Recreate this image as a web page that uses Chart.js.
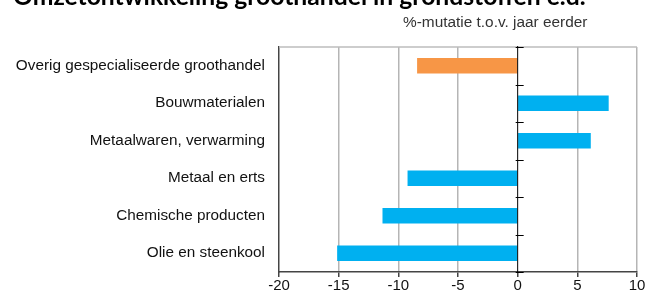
<!DOCTYPE html>
<html>
<head>
<meta charset="utf-8">
<script src="https://cdn.jsdelivr.net/npm/chart.js"></script>
<style>
	body { margin: 0; background: #fff; }
	#wrap { position: relative; width: 657px; height: 297px; }
</style>
</head>
<body>
<div id="wrap">
	<canvas id="groothandel" width="657" height="297"></canvas>
</div>

<script>
	// --- data ---
	var titleText = 'Omzetontwikkeling groothandel in grondstoffen e.d.';
	var subtitleText = '%-mutatie t.o.v. jaar eerder';
	var categories = [
		'Overig gespecialiseerde groothandel',
		'Bouwmaterialen',
		'Metaalwaren, verwarming',
		'Metaal en erts',
		'Chemische producten',
		'Olie en steenkool'
	];
	var values = [-8.4, 7.6, 6.1, -9.2, -11.3, -15.1];
	var barColors = ['#f79646', '#00b0f0', '#00b0f0', '#00b0f0', '#00b0f0', '#00b0f0'];
	var xTicks = [-20, -15, -10, -5, 0, 5, 10];

	// titles, top border, zero line and its little tick marks
	var extras = {
		id: 'extras',
		afterDatasetsDraw: function (chart) {
			var ctx = chart.ctx;
			var area = chart.chartArea;
			var xs = chart.scales.x;
			var ys = chart.scales.y;
			var x0 = xs.getPixelForValue(0);
			ctx.save();
			// top border
			ctx.strokeStyle = '#bdbdbd';
			ctx.lineWidth = 1.5;
			ctx.beginPath();
			ctx.moveTo(area.left, area.top);
			ctx.lineTo(area.right, area.top);
			ctx.stroke();
			// zero line
			ctx.strokeStyle = '#000';
			ctx.lineWidth = 1;
			ctx.beginPath();
			ctx.moveTo(x0, area.top - 1);
			ctx.lineTo(x0, area.bottom);
			ctx.stroke();
			// ticks between categories
			for (var i = 0; i <= categories.length; i++) {
				var y = Math.round(ys.getPixelForValue(i - 0.5)) + 0.5;
				ctx.beginPath();
				ctx.moveTo(x0 - 2, y);
				ctx.lineTo(x0 + 6, y);
				ctx.stroke();
			}
			ctx.restore();
		},
		afterDraw: function (chart) {
			var ctx = chart.ctx;
			ctx.save();
			ctx.fillStyle = '#000';
			ctx.textAlign = 'left';
			ctx.textBaseline = 'alphabetic';
			// size the title so it spans about 13..585 like the original
			ctx.font = 'bold 20px Lato';
			var size = 20 * 572 / ctx.measureText(titleText).width;
			ctx.font = 'bold ' + size.toFixed(1) + 'px Lato';
			ctx.fillText(titleText, 13, 5);
			ctx.fillStyle = '#333';
			ctx.font = '15.4px "Liberation Sans"';
			ctx.fillText(subtitleText, 403, 27);
			ctx.restore();
		}
	};

	var ctx = document.getElementById('groothandel').getContext('2d');
	new Chart(ctx, {
		type: 'bar',
		data: {
			labels: categories,
			datasets: [ {
				data: values,
				backgroundColor: barColors,
				borderWidth: 0,
				barThickness: 15
			} ]
		},
		plugins: [extras],
		options: {
			indexAxis: 'y',
			responsive: false,
			animation: false,
			layout: {
				padding: { top: 47, right: 20, left: 0, bottom: 0 }
			},
			scales: {
				x: {
					min: -20,
					max: 10,
					afterBuildTicks: function (scale) {
						scale.ticks = xTicks.map(function (v) { return { value: v }; });
					},
					afterFit: function (scale) { scale.height = 25; },
					ticks: {
						color: '#111',
						padding: 0,
						maxRotation: 0,
						font: { family: 'Liberation Sans', size: 15 }
					},
					grid: {
						color: function (c) {
							if (c.tick && (c.tick.value === 0 || c.tick.value === -20)) return 'rgba(0,0,0,0)';
							return '#b5b5b5';
						},
						lineWidth: 1.5,
						tickColor: '#444',
						tickLength: 5
					},
					border: { color: '#444', width: 1.5 }
				},
				y: {
					afterFit: function (scale) { scale.width = 279; },
					ticks: {
						color: '#111',
						padding: 14,
						font: { family: 'Liberation Sans', size: 15.3 }
					},
					grid: { drawOnChartArea: false, drawTicks: false },
					border: { color: '#444', width: 1.5 }
				}
			},
			plugins: {
				legend: { display: false },
				tooltip: { enabled: false }
			}
		}
	});
</script>
</body>
</html>
